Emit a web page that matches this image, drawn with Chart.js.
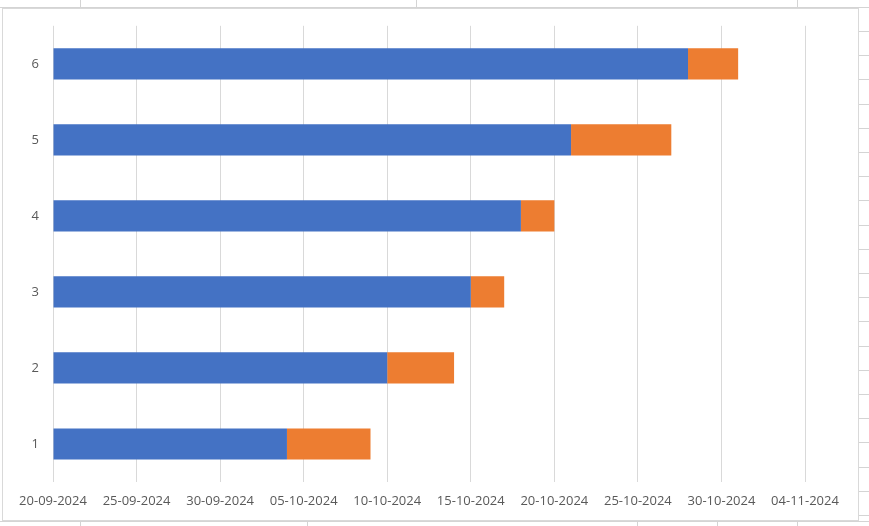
<!DOCTYPE html>
<html>
<head>
<meta charset="utf-8">
<script src="https://cdn.jsdelivr.net/npm/chart.js@4.4.1/dist/chart.umd.min.js"></script>
<style>
  html, body { margin: 0; padding: 0; background: #fff; }
  body { width: 869px; height: 526px; position: relative; overflow: hidden; }
  /* spreadsheet cells peeking out around the chart */
  .cell { position: absolute; background: #d4d4d4; }
  #box {
    position: absolute; left: 2px; top: 8px; width: 855px; height: 511px;
    border: 1px solid #d9d9d9; background: #fff;
  }
  #box canvas { position: absolute; left: 0; top: 3px; }
</style>
</head>
<body>
<div class="cell" style="left:0;top:7px;width:869px;height:1px"></div>
<div class="cell" style="left:80px;top:0;width:1px;height:7px"></div>
<div class="cell" style="left:416px;top:0;width:1px;height:7px"></div>
<div class="cell" style="left:797px;top:0;width:1px;height:7px"></div>
<div class="cell" style="left:0;top:521px;width:869px;height:1px"></div>
<div class="cell" style="left:80px;top:521px;width:1px;height:5px"></div>
<div class="cell" style="left:307px;top:521px;width:1px;height:5px"></div>
<div class="cell" style="left:637px;top:521px;width:1px;height:5px"></div>
<div class="cell" style="left:717px;top:521px;width:1px;height:5px"></div>
<div class="cell" style="left:797px;top:521px;width:1px;height:5px"></div>
<div id="cellsRight"></div>
<div id="box"><canvas id="gantt" width="855" height="508"></canvas></div>
<script>
// task rows, start dates and durations in days
const tasks = ['1', '2', '3', '4', '5', '6']
const startDates = ['04-10-2024', '10-10-2024', '15-10-2024', '18-10-2024', '21-10-2024', '28-10-2024']
const durations = [5, 4, 2, 2, 6, 3]

// axis runs from 20-09-2024 to 04-11-2024 in 5 day steps
const axisStart = '20-09-2024'
const axisDays = 45
const tickStep = 5

const DAY = 86400000
function parseDate(s) {
  const [d, m, y] = s.split('-').map(Number)
  return Date.UTC(y, m - 1, d)
}
function fmtDate(t) {
  const dt = new Date(t)
  const p = n => String(n).padStart(2, '0')
  return p(dt.getUTCDate()) + '-' + p(dt.getUTCMonth() + 1) + '-' + dt.getUTCFullYear()
}
const base = parseDate(axisStart)
const startOffsets = startDates.map(s => (parseDate(s) - base) / DAY)

// right hand column lines of the sheet
const rc = document.getElementById('cellsRight')
for (let y = 31; y < 526; y += 24.2) {
  const d = document.createElement('div')
  d.className = 'cell'
  d.style.cssText = 'left:858px;width:11px;height:1px;top:' + Math.round(y) + 'px'
  rc.appendChild(d)
}

const labelFont = { family: "'Open Sans', 'Noto Sans', sans-serif", size: 13 }

const ganttConfig = {
  type: 'bar',
  data: {
    labels: tasks,
    datasets: [
      {
        label: 'Start',
        data: startOffsets,
        backgroundColor: '#4472C4',
        barPercentage: 0.41,
        categoryPercentage: 1,
      },
      {
        label: 'Duration',
        data: durations,
        backgroundColor: '#ED7D31',
        barPercentage: 0.41,
        categoryPercentage: 1,
      },
    ],
  },
  options: {
    indexAxis: 'y',
    responsive: false,
    animation: false,
    layout: { padding: { left: 0, top: 9, right: 53, bottom: 0 } },
    plugins: {
      legend: { display: false },
      tooltip: { enabled: false },
    },
    scales: {
      x: {
        type: 'linear',
        stacked: true,
        min: 0,
        max: axisDays,
        border: { display: false },
        grid: { color: '#d9d9d9', drawTicks: false },
        ticks: {
          stepSize: tickStep,
          padding: 11,
          color: '#595959',
          font: labelFont,
          maxRotation: 0,
          autoSkip: false,
          callback: v => fmtDate(base + v * DAY),
        },
        afterFit: s => { s.height = 38 },
      },
      y: {
        stacked: true,
        reverse: true,
        border: { display: false },
        grid: { display: false },
        ticks: { color: '#595959', font: labelFont, padding: 6 },
        afterFit: s => { s.width = 50 },
      },
    },
  },
}

const ganttCtx = document.getElementById('gantt')
window.myGantt = new Chart(ganttCtx, ganttConfig)
</script>
</body>
</html>
